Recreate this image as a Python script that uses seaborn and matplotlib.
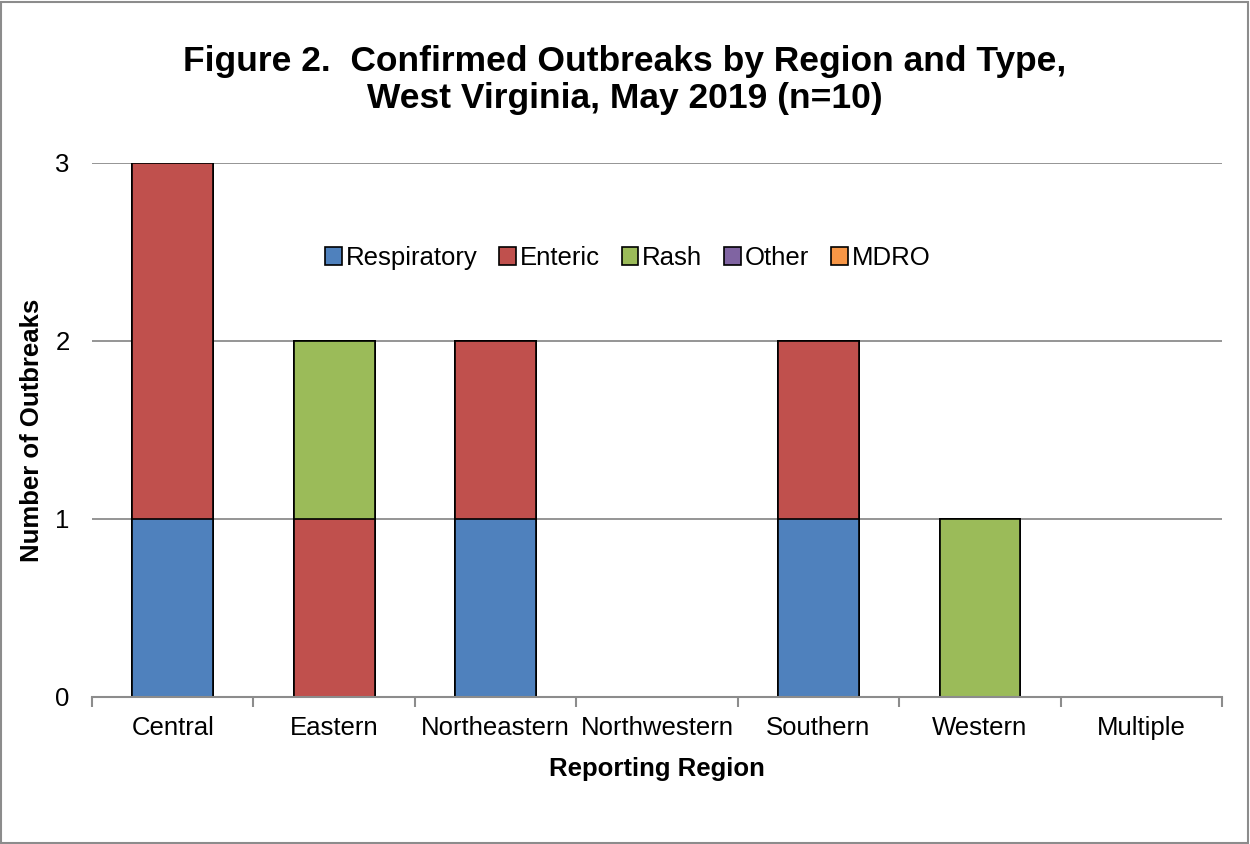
import matplotlib
matplotlib.use('agg')
import matplotlib.pyplot as plt
from matplotlib.patches import Patch, Rectangle
import seaborn as sns
import pandas as pd

regions = ['Central', 'Eastern', 'Northeastern', 'Northwestern', 'Southern', 'Western', 'Multiple']
respiratory = [1, 0, 1, 0, 1, 0, 0]
enteric = [2, 1, 1, 0, 1, 0, 0]
rash = [0, 1, 0, 0, 0, 1, 0]
other = [0, 0, 0, 0, 0, 0, 0]
mdro = [0, 0, 0, 0, 0, 0, 0]
typeNames = ['Respiratory', 'Enteric', 'Rash', 'Other', 'MDRO']
typeColors = ['#4F81BD', '#C0504D', '#9BBB59', '#8064A2', '#F79646']

series = [respiratory, enteric, rash, other, mdro]

sns.set_style('white')
plt.rcParams['font.family'] = ['Liberation Sans', 'DejaVu Sans']
plt.rcParams['text.color'] = 'black'
plt.rcParams['axes.labelcolor'] = 'black'
plt.rcParams['xtick.color'] = 'black'
plt.rcParams['ytick.color'] = 'black'

fig = plt.figure(figsize=(12.5, 8.44), dpi=100)
ax = fig.add_axes([0.0736, 0.1742, 0.904, 0.6327])

# stacked bars: draw cumulative totals from the top layer down
for i in range(len(series) - 1, -1, -1):
	cum = [sum(s[k] for s in series[:i + 1]) for k in range(len(regions))]
	df = pd.DataFrame({'region': regions, 'count': cum})
	sns.barplot(data=df, x='region', y='count', order=regions, color=typeColors[i],
				saturation=1, width=0.5, edgecolor='black', linewidth=1.2, ax=ax)
for p in ax.patches:
	if p.get_height() == 0:
		p.set_visible(False)

ax.set_xlim(-0.5, len(regions) - 0.5)
ax.set_ylim(0, 3)
ax.set_yticks([0, 1, 2, 3])
ax.yaxis.grid(True, color='#8c8c8c', linewidth=1.3)
ax.set_axisbelow(True)
for side in ['left', 'right', 'top']:
	ax.spines[side].set_visible(False)
ax.spines['bottom'].set_color('#8c8c8c')
ax.spines['bottom'].set_linewidth(1.5)
ax.spines['bottom'].set_zorder(3)

ax.set_xticks(range(len(regions)))
ax.set_xticklabels(regions)
ax.set_xticks([x - 0.5 for x in range(len(regions) + 1)], minor=True)
ax.tick_params(axis='x', which='major', length=0, labelsize=18.5, pad=14)
ax.tick_params(axis='x', which='minor', length=7, width=1.5, color='#8c8c8c', direction='out', bottom=True)
ax.tick_params(axis='y', length=0, labelsize=18.5, pad=16)

ax.set_xlabel('Reporting Region', fontsize=18.5, fontweight='bold', labelpad=12)
ax.set_ylabel('Number of Outbreaks', fontsize=18.5, fontweight='bold', labelpad=8)

handles = [Patch(facecolor=c, edgecolor='black', linewidth=1.2) for c in typeColors]
ax.legend(handles, typeNames, loc='center', bbox_to_anchor=(0.474, 0.822), ncol=5,
		  frameon=False, fontsize=18.5, handlelength=0.65, handleheight=0.65,
		  handletextpad=0.15, columnspacing=0.85)

fig.text(0.5, 0.905, 'Figure 2.  Confirmed Outbreaks by Region and Type,\nWest Virginia, May 2019 (n=10)',
		 ha='center', va='center', fontsize=25.5, fontweight='bold', linespacing=1.15)

fig.patches.append(Rectangle((0.001, 0.001), 0.997, 0.997, transform=fig.transFigure,
							 fill=False, edgecolor='#8c8c8c', linewidth=1.5))

plt.savefig('out.png', dpi=100)
plt.close()
